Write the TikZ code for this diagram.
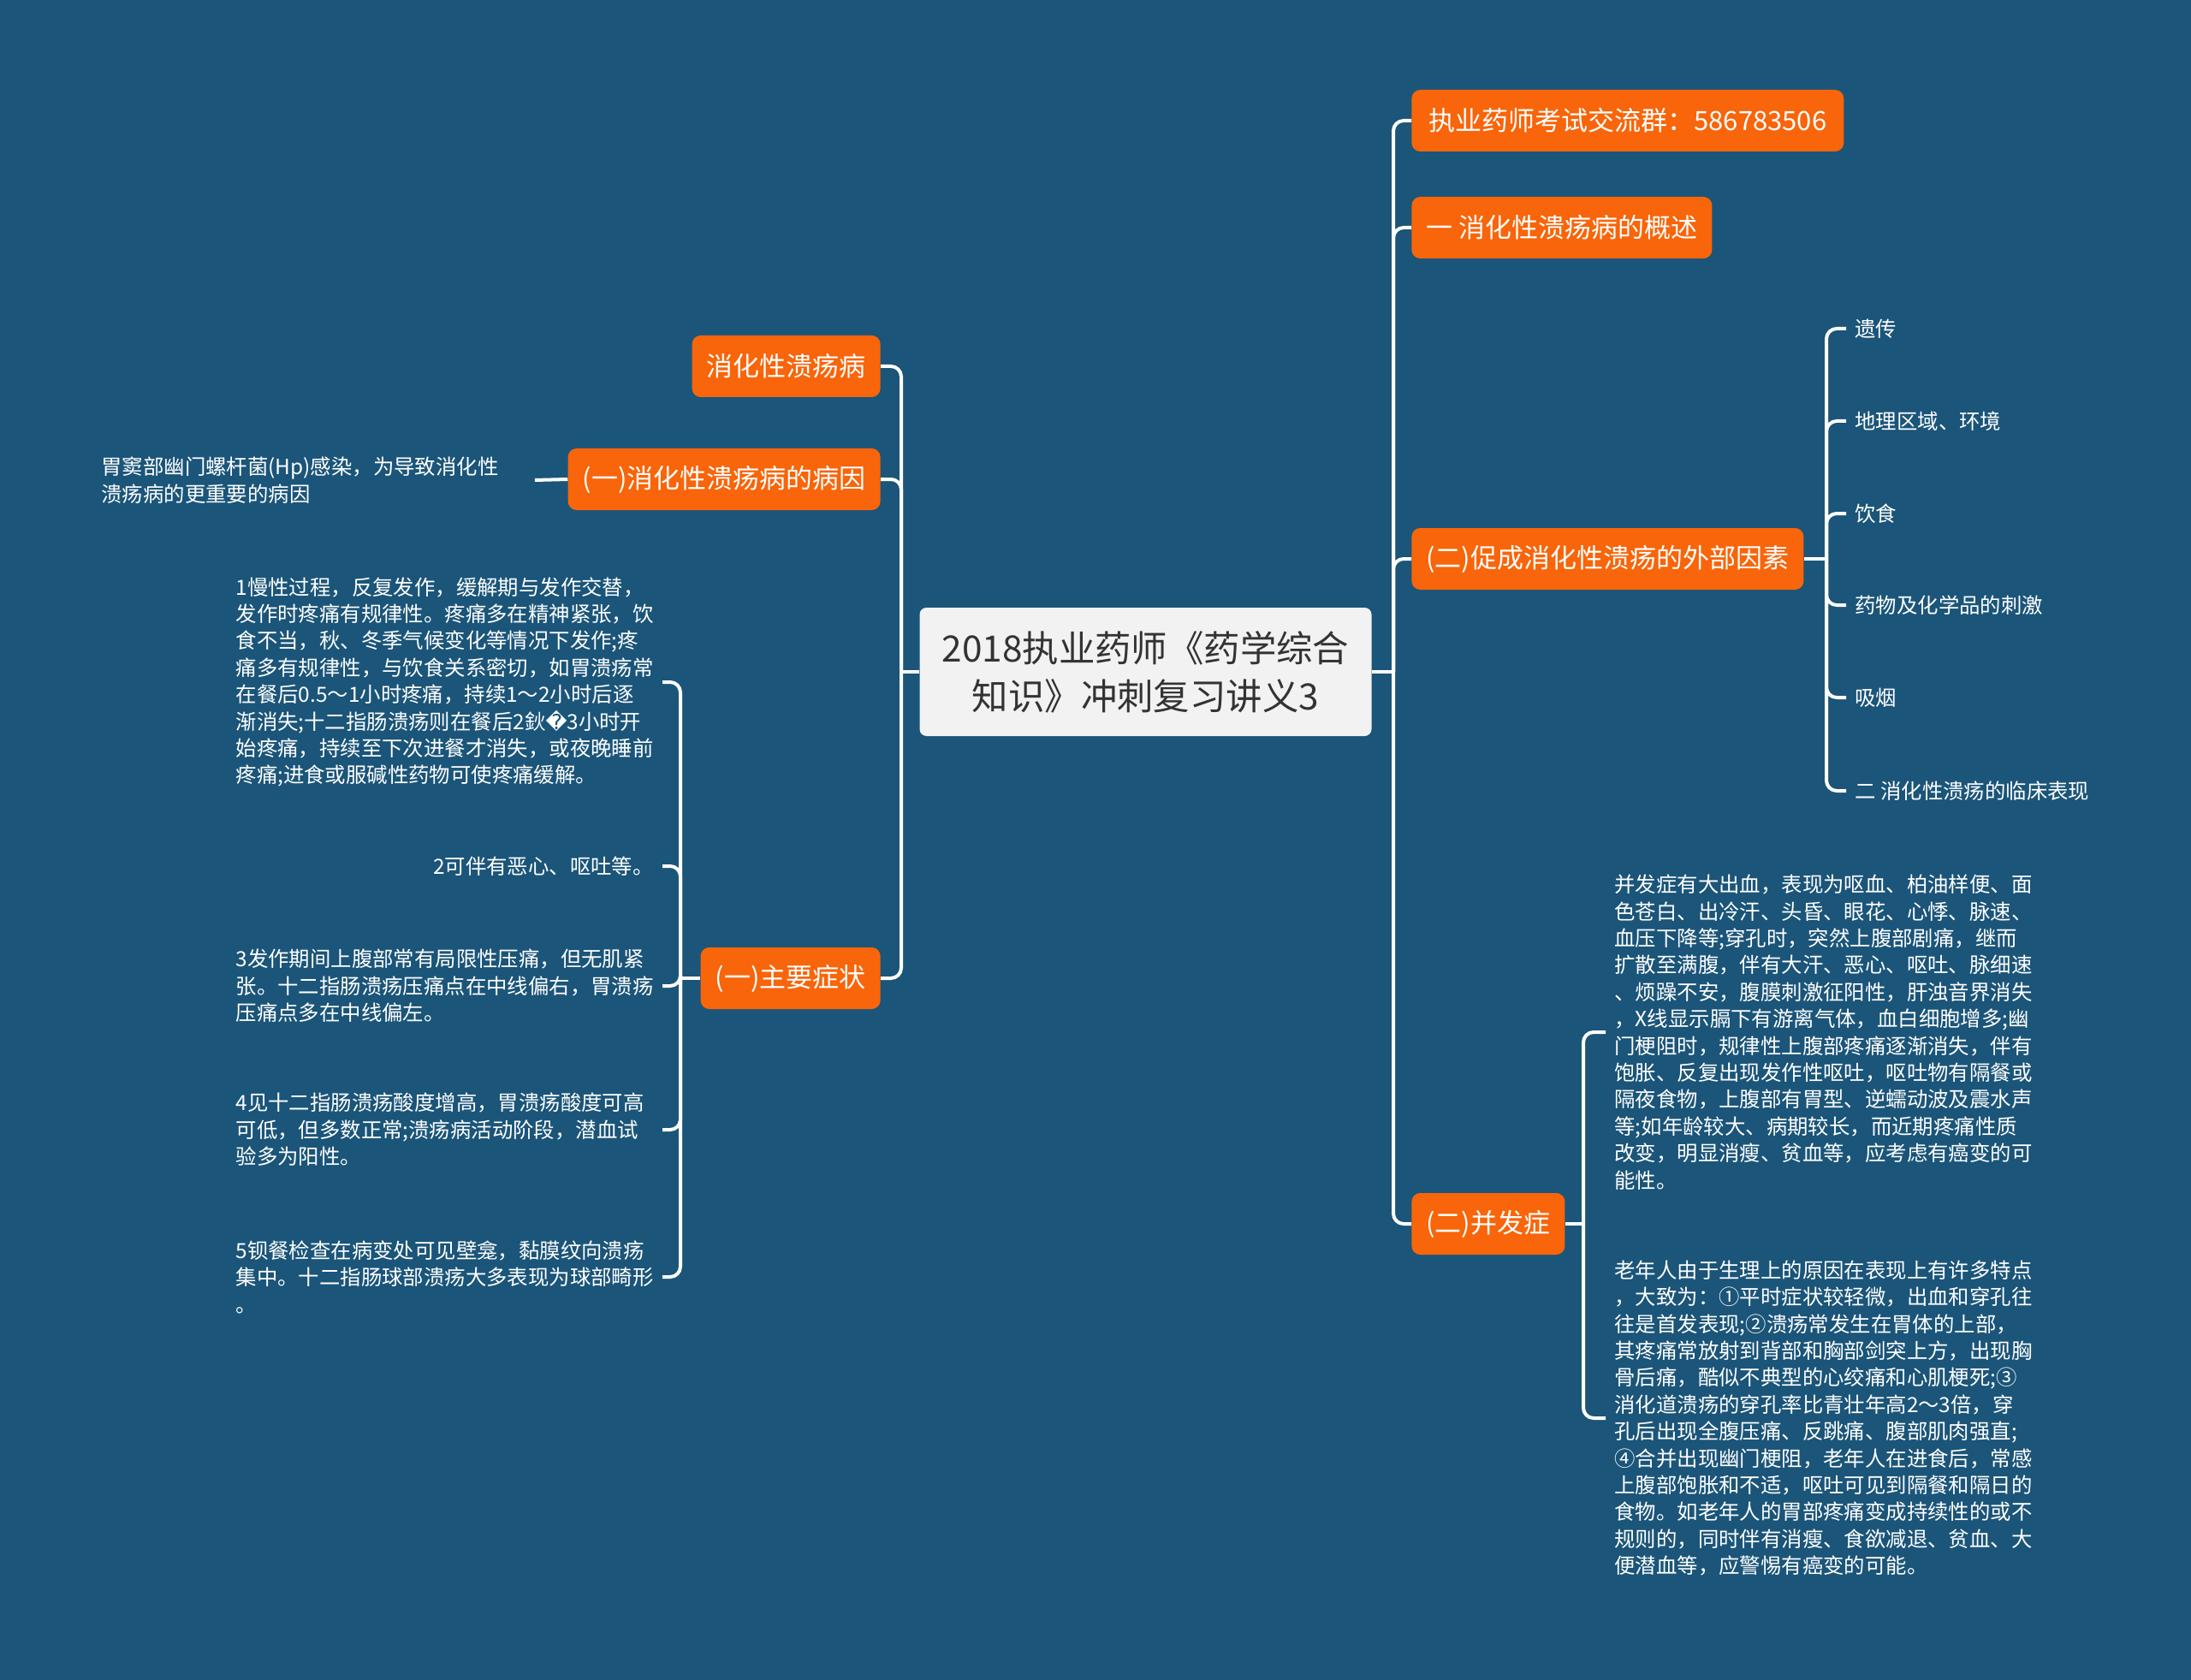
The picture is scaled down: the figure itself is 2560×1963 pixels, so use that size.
\documentclass[tikz,border=0pt]{standalone}
\usepackage{fontspec}
\setmainfont{Noto Sans CJK SC}
\newfontfamily\symfont{DejaVu Sans}
\usetikzlibrary{positioning}

\definecolor{bgblue}{HTML}{1B5579}
\definecolor{topicorange}{HTML}{F8650A}
\definecolor{rootgray}{HTML}{F2F2F2}
\definecolor{roottext}{HTML}{333333}

\begin{document}
\begin{tikzpicture}[
    x=0.5pt, y=-0.5pt,
    every node/.style={font=\fontsize{12.2}{15.7}\selectfont, text=white},
    root/.style={fill=rootgray, rounded corners=4pt, minimum width=264pt, minimum height=75pt, align=center, text=roottext, font=\fontsize{21.2}{28}\selectfont},
    topic/.style={fill=topicorange, rounded corners=5pt, minimum height=36pt, inner xsep=8.5pt, font=\fontsize{15.5}{19}\selectfont},
    leaf/.style={align=left, inner xsep=5pt, inner ysep=0pt},
    para/.style={leaf, text width=244pt},
    link/.style={draw=white, line width=2pt, rounded corners=6pt}
]

% Background
\path[use as bounding box, fill=bgblue] (0,0) rectangle (2560,1963);

% Central topic
\node[root] (root) at (1338.5,785) {2018执业药师《药学综合\\知识》冲刺复习讲义3};

% Left branch
\node[topic, anchor=east] (disease) at (1029,428) {消化性溃疡病};
\node[topic, anchor=east] (cause) at (1029,560) {(一)消化性溃疡病的病因};
\node[topic, anchor=east] (symptom) at (1029,1143) {(一)主要症状};

\coordinate (lj) at (1053,785);
\draw[link] (root.west) -- (lj);
\draw[link] (lj) |- (disease.east);
\draw[link] (lj) |- (cause.east);
\draw[link] (lj) |- (symptom.east);

% Cause leaf
\node[leaf, anchor=west, text width=248pt] (hp) at (108,561) {胃窦部幽门螺杆菌(Hp)感染，为导致消化性\\溃疡病的更重要的病因};
\draw[link] (hp.east) -- (cause.west);

% Symptom leaves
\node[para, anchor=east] (s1) at (774,797) {1慢性过程，反复发作，缓解期与发作交替，\\发作时疼痛有规律性。疼痛多在精神紧张，饮\\食不当，秋、冬季气候变化等情况下发作;疼\\痛多有规律性，与饮食关系密切，如胃溃疡常\\在餐后0.5～1小时疼痛，持续1～2小时后逐\\渐消失;十二指肠溃疡则在餐后2鈥{\symfont �}3小时开\\始疼痛，持续至下次进餐才消失，或夜晚睡前\\疼痛;进食或服碱性药物可使疼痛缓解。};
\node[leaf, anchor=east] (s2) at (774,1012) {2可伴有恶心、呕吐等。};
\node[para, anchor=east] (s3) at (774,1152) {3发作期间上腹部常有局限性压痛，但无肌紧\\张。十二指肠溃疡压痛点在中线偏右，胃溃疡\\压痛点多在中线偏左。};
\node[para, anchor=east] (s4) at (774,1320) {4见十二指肠溃疡酸度增高，胃溃疡酸度可高\\可低，但多数正常;溃疡病活动阶段，潜血试\\验多为阳性。};
\node[para, anchor=east] (s5) at (774,1492) {5钡餐检查在病变处可见壁龛，黏膜纹向溃疡\\集中。十二指肠球部溃疡大多表现为球部畸形\\。};

\coordinate (sj) at (795,1143);
\draw[link] (symptom.west) -- (sj);
\foreach \s in {s1,s2,s3,s4,s5}
    \draw[link] (sj) |- (\s.east);

% Right branch
\node[topic, anchor=west, inner xsep=10pt] (group) at (1649,141) {执业药师考试交流群：586783506};
\node[topic, anchor=west] (overview) at (1649,266) {一 消化性溃疡病的概述};
\node[topic, anchor=west] (factor) at (1649,653) {(二)促成消化性溃疡的外部因素};
\node[topic, anchor=west] (complic) at (1649,1430) {(二)并发症};

\coordinate (rj) at (1628,785);
\draw[link] (root.east) -- (rj);
\foreach \t in {group,overview,factor,complic}
    \draw[link] (rj) |- (\t.west);

% Factor leaves
\node[leaf, anchor=west] (f1) at (2157,384) {遗传};
\node[leaf, anchor=west] (f2) at (2157,492) {地理区域、环境};
\node[leaf, anchor=west] (f3) at (2157,600) {饮食};
\node[leaf, anchor=west] (f4) at (2157,707) {药物及化学品的刺激};
\node[leaf, anchor=west] (f5) at (2157,815) {吸烟};
\node[leaf, anchor=west] (f6) at (2157,924) {二 消化性溃疡的临床表现};

\coordinate (fj) at (2134,653);
\draw[link] (factor.east) -- (fj);
\foreach \f in {f1,f2,f3,f4,f5,f6}
    \draw[link] (fj) |- (\f.west);

% Complication leaves
\node[para, anchor=west] (c1) at (1876,1206) {并发症有大出血，表现为呕血、柏油样便、面\\色苍白、出冷汗、头昏、眼花、心悸、脉速、\\血压下降等;穿孔时，突然上腹部剧痛，继而\\扩散至满腹，伴有大汗、恶心、呕吐、脉细速\\、烦躁不安，腹膜刺激征阳性，肝浊音界消失\\，X线显示膈下有游离气体，血白细胞增多;幽\\门梗阻时，规律性上腹部疼痛逐渐消失，伴有\\饱胀、反复出现发作性呕吐，呕吐物有隔餐或\\隔夜食物，上腹部有胃型、逆蠕动波及震水声\\等;如年龄较大、病期较长，而近期疼痛性质\\改变，明显消瘦、贫血等，应考虑有癌变的可\\能性。};
\node[para, anchor=west] (c2) at (1876,1657) {老年人由于生理上的原因在表现上有许多特点\\，大致为：①平时症状较轻微，出血和穿孔往\\往是首发表现;②溃疡常发生在胃体的上部，\\其疼痛常放射到背部和胸部剑突上方，出现胸\\骨后痛，酷似不典型的心绞痛和心肌梗死;③\\消化道溃疡的穿孔率比青壮年高2～3倍，穿\\孔后出现全腹压痛、反跳痛、腹部肌肉强直;\\④合并出现幽门梗阻，老年人在进食后，常感\\上腹部饱胀和不适，呕吐可见到隔餐和隔日的\\食物。如老年人的胃部疼痛变成持续性的或不\\规则的，同时伴有消瘦、食欲减退、贫血、大\\便潜血等，应警惕有癌变的可能。};

\coordinate (cj) at (1850,1430);
\draw[link] (complic.east) -- (cj);
\draw[link] (cj) |- (c1.west);
\draw[link] (cj) |- (c2.west);

\end{tikzpicture}
\end{document}
